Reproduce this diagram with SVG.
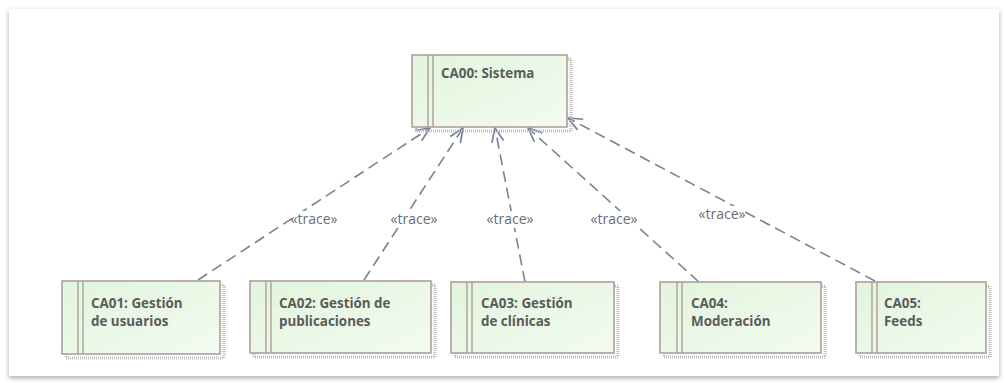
<svg xmlns="http://www.w3.org/2000/svg" width="1005" height="383" viewBox="0 0 1005 383">
  <defs>
    <linearGradient id="boxFill" x1="0" y1="0" x2="1" y2="1">
      <stop offset="0" stop-color="#e2f5dc"/>
      <stop offset="1" stop-color="#f3fbf0"/>
    </linearGradient>
    <filter id="panelShadow" x="-5%" y="-5%" width="110%" height="115%">
      <feDropShadow dx="0" dy="2" stdDeviation="2.5" flood-color="#000" flood-opacity="0.35"/>
    </filter>
    <marker id="openArrow" markerWidth="16" markerHeight="14" refX="15" refY="7" orient="auto" markerUnits="userSpaceOnUse">
      <path d="M1,1 L15,7 L1,13" fill="none" stroke="#7b8296" stroke-width="1.7"/>
    </marker>
    <style>
      .shadow { fill: none; stroke: #bdbdbd; stroke-width: 3; stroke-dasharray: 1 1; }
      .box { fill: url(#boxFill); stroke: #ad9f9c; stroke-width: 1.6; }
      .bar { stroke: #ad9f9c; stroke-width: 1.4; }
      .title { font-family: "Open Sans", "Noto Sans", sans-serif; font-weight: 700; font-size: 13.4px; fill: #5b5b5b; }
      .trace { fill: none; stroke: #7b8296; stroke-width: 1.6; stroke-dasharray: 11 6; }
      .label { font-family: "Open Sans", "Noto Sans", sans-serif; font-size: 14px; fill: #6c6c72; text-anchor: middle; }
      .labelBg { fill: #ffffff; }
    </style>
  </defs>

  <rect width="1005" height="383" fill="#ffffff"/>
  <!-- diagram panel -->
  <rect x="9" y="9" width="990" height="367" fill="#ffffff" filter="url(#panelShadow)"/>

  <!-- trace dependencies -->
  <g id="connectors">
    <line class="trace" x1="198" y1="280" x2="430" y2="128" marker-end="url(#openArrow)"/>
    <line class="trace" x1="364" y1="280" x2="463" y2="128" marker-end="url(#openArrow)"/>
    <line class="trace" x1="525" y1="282" x2="495" y2="128" marker-end="url(#openArrow)"/>
    <line class="trace" x1="699" y1="282" x2="528" y2="128" marker-end="url(#openArrow)"/>
    <line class="trace" x1="875" y1="281" x2="568" y2="118" marker-end="url(#openArrow)"/>
    <rect class="labelBg" x="292" y="211" width="44" height="17"/>
    <rect class="labelBg" x="392" y="211" width="44" height="17"/>
    <rect class="labelBg" x="488" y="211" width="44" height="17"/>
    <rect class="labelBg" x="592" y="211" width="44" height="17"/>
    <rect class="labelBg" x="700" y="206" width="44" height="17"/>
    <text class="label" x="314" y="224">«trace»</text>
    <text class="label" x="414" y="224">«trace»</text>
    <text class="label" x="510" y="224">«trace»</text>
    <text class="label" x="614" y="224">«trace»</text>
    <text class="label" x="722" y="219">«trace»</text>
  </g>

  <g id="CA00">
    <rect class="shadow" x="416" y="59" width="155" height="72"/>
    <rect class="box" x="412" y="55" width="155" height="72"/>
    <line class="bar" x1="428" y1="55" x2="428" y2="127"/>
    <line class="bar" x1="433" y1="55" x2="433" y2="127"/>
    <text class="title" x="441" y="78">CA00: Sistema</text>
  </g>

  <g id="CA01">
    <rect class="shadow" x="66" y="285" width="158" height="73"/>
    <rect class="box" x="62" y="281" width="158" height="73"/>
    <line class="bar" x1="78" y1="281" x2="78" y2="354"/>
    <line class="bar" x1="83" y1="281" x2="83" y2="354"/>
    <text class="title" x="91" y="308">CA01: Gestión</text>
    <text class="title" x="91" y="326">de usuarios</text>
  </g>

  <g id="CA02">
    <rect class="shadow" x="254" y="285" width="181" height="72"/>
    <rect class="box" x="250" y="281" width="181" height="72"/>
    <line class="bar" x1="266" y1="281" x2="266" y2="353"/>
    <line class="bar" x1="271" y1="281" x2="271" y2="353"/>
    <text class="title" x="279" y="308">CA02: Gestión de</text>
    <text class="title" x="279" y="326">publicaciones</text>
  </g>

  <g id="CA03">
    <rect class="shadow" x="455" y="286" width="163" height="71"/>
    <rect class="box" x="451" y="282" width="163" height="71"/>
    <line class="bar" x1="467" y1="282" x2="467" y2="353"/>
    <line class="bar" x1="472" y1="282" x2="472" y2="353"/>
    <text class="title" x="481" y="308">CA03: Gestión</text>
    <text class="title" x="481" y="326">de clínicas</text>
  </g>

  <g id="CA04">
    <rect class="shadow" x="664" y="286" width="161" height="71"/>
    <rect class="box" x="660" y="282" width="161" height="71"/>
    <line class="bar" x1="677" y1="282" x2="677" y2="353"/>
    <line class="bar" x1="682" y1="282" x2="682" y2="353"/>
    <text class="title" x="691" y="308">CA04:</text>
    <text class="title" x="691" y="326">Moderación</text>
  </g>

  <g id="CA05">
    <rect class="shadow" x="860" y="286" width="130" height="71"/>
    <rect class="box" x="856" y="282" width="130" height="71"/>
    <line class="bar" x1="872" y1="282" x2="872" y2="353"/>
    <line class="bar" x1="877" y1="282" x2="877" y2="353"/>
    <text class="title" x="884" y="308">CA05:</text>
    <text class="title" x="884" y="326">Feeds</text>
  </g>
</svg>
